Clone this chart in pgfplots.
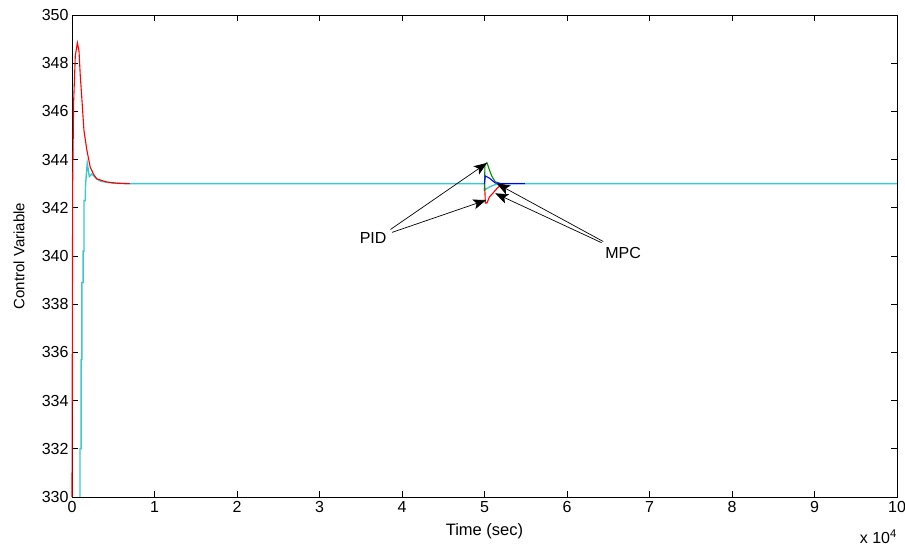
\documentclass[border=0pt]{standalone}
\usepackage{fontspec}
\setmainfont{Liberation Sans}
\usepackage{pgfplots}
\pgfplotsset{compat=1.18}
\usetikzlibrary{arrows.meta}

\definecolor{mcyan}{RGB}{60,200,205}
\definecolor{mgreen}{RGB}{0,140,0}

\begin{document}
\begin{tikzpicture}
\begin{axis}[
    scale only axis,
    width=825pt, height=482pt,
    xmin=0, xmax=10, ymin=330, ymax=350,
    xtick={0,1,...,10}, ytick={330,332,...,350},
    tick align=inside, major tick length=6pt,
    tick style={black, line width=0.7pt},
    axis line style={black, line width=0.9pt},
    every axis plot/.append style={line width=1.1pt},
    tick label style={font=\fontsize{16}{18}\selectfont},
    /pgf/number format/assume math mode=true,
    xticklabel style={yshift=-1pt},
    clip=false,
]
% MPC / PID responses (time in units of 10^4 s)
\addplot[mcyan, line width=1.4pt] coordinates {
 (0.097,330) (0.097,332) (0.11,332) (0.11,335.7) (0.12,335.7) (0.12,338.9)
 (0.135,338.9) (0.135,340.2) (0.145,340.2) (0.145,342.3) (0.16,342.3)
 (0.165,343) (0.185,343.85) (0.21,343.3) (0.24,343.4) (0.3,343.2) (0.35,343.1)
 (0.5,343.02) (0.7,343) (5.0,343) (5.0,342.75) (5.03,342.8) (5.07,342.88)
 (5.12,342.95) (5.2,343) (10,343)};
\addplot[red] coordinates {
 (0,330) (0.008,343) (0.02,346.4) (0.04,348.3) (0.065,348.85) (0.085,348.5)
 (0.1,347.5) (0.12,346.5) (0.145,345.2) (0.18,344.4) (0.22,343.7) (0.26,343.4)
 (0.3,343.2) (0.42,343.07) (0.55,343.02) (0.7,343.0)};
\addplot[red] coordinates {
 (5.0,343) (5.005,342.67) (5.01,342.2) (5.03,342.2) (5.06,342.45) (5.1,342.6)
 (5.15,342.8) (5.2,342.95) (5.25,343)};
\addplot[mgreen] coordinates {
 (5.0,342.7) (5.005,343.8) (5.03,343.87) (5.06,343.57) (5.09,343.3)
 (5.13,343.08) (5.2,343.0) (5.3,343.0)};
\addplot[blue] coordinates {
 (5.0,343) (5.01,343.32) (5.06,343.23) (5.13,343.03) (5.2,343.0) (5.49,343.0)};

% annotations
\node[font=\fontsize{16}{18}\selectfont] at (axis cs:3.65,340.75) {PID};
\node[font=\fontsize{16}{18}\selectfont] at (axis cs:6.68,340.12) {MPC};
\tikzset{marr/.style={-{Stealth[length=13pt,width=10pt,inset=3pt]}, line width=0.7pt}}
\draw[marr] (axis cs:3.86,341.1) -- (axis cs:5.03,343.86);
\draw[marr] (axis cs:3.88,340.98) -- (axis cs:5.02,342.32);
\draw[marr] (axis cs:6.44,340.6) -- (axis cs:5.15,343.0);
\draw[marr] (axis cs:6.42,340.55) -- (axis cs:5.13,342.6);

% labels
\node[font=\fontsize{16.5}{18}\selectfont, anchor=base] at ([yshift=-38pt]rel axis cs:0.5,0) {Time (sec)};
\node[font=\fontsize{15}{17}\selectfont, rotate=90] at ([xshift=-53pt]rel axis cs:0,0.5) {Control Variable};
\node[font=\fontsize{16}{18}\selectfont, anchor=base east, inner sep=0pt] at ([yshift=-47pt]rel axis cs:1,0) {x 10\textsuperscript{4}};
\end{axis}
\pgfresetboundingbox
\path[use as bounding box] ([shift={(-72pt,-54pt)}]current axis.south west) rectangle ([shift={(8pt,15pt)}]current axis.north east);
\end{tikzpicture}
\end{document}
